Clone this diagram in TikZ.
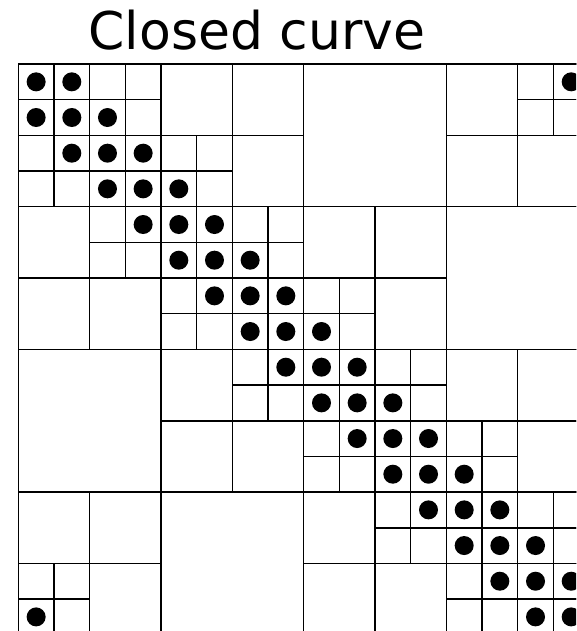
\documentclass[tikz,border=0pt]{standalone}
\usepackage{fontspec}
\newfontfamily\titlefont{DejaVu Sans}
\begin{document}
\begin{tikzpicture}[x=1pt,y=-1pt,
  gridline/.style={line width=1.6pt, black},
  dot/.style={fill=black}]
\useasboundingbox (0,0) rectangle (576,631);
\node[anchor=base, inner sep=0pt] (title) at (257,50) {\titlefont\fontsize{52}{62}\selectfont Closed curve};
\clip (0,0) rectangle (576,631);
\begin{scope}[shift={(18.3pt,-64pt)}, x=35.67pt, y=-35.67pt]
  \draw[gridline] (0,0) rectangle (16,16);
  \foreach \s/\p in {8/16,4/8,2/4,1/2} {
    \foreach \r in {0,\s,...,15} {
      \foreach \c in {0,\s,...,15} {
        \pgfmathtruncatemacro\rr{floor(\r/\p)*\p}
        \pgfmathtruncatemacro\cc{floor(\c/\p)*\p}
        \pgfmathtruncatemacro\lo{\cc-\rr-\p+1}
        \pgfmathtruncatemacro\hi{\cc-\rr+\p-1}
        \pgfmathtruncatemacro\ne{((\lo<=1)&&(\hi>=(0-1)))||((\lo<=15)&&(\hi>=15))||((\lo<=(0-15))&&(\hi>=(0-15)))}
        \ifnum\ne=1
          \draw[gridline] (\c,\r) rectangle ++(\s,\s);
        \fi
      }
    }
  }
  \foreach \i in {0,...,15} {
    \foreach \d in {-1,0,1} {
      \pgfmathtruncatemacro\j{mod(\i+\d+16,16)}
      \fill[dot] (\j+0.5,\i+0.5) circle[radius=9.5pt];
    }
  }
\end{scope}
\end{tikzpicture}
\end{document}
